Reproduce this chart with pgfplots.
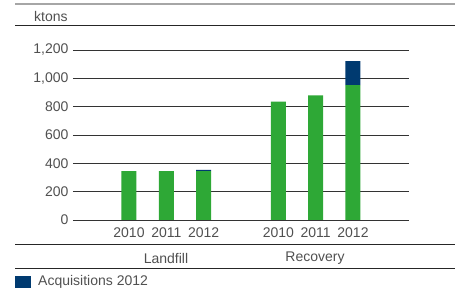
\documentclass[border=0pt]{standalone}
\usepackage{pgfplots}
\pgfplotsset{compat=1.18}
\usepackage{fontspec}
\setmainfont{Liberation Sans}
\definecolor{bargreen}{HTML}{2EA836}
\definecolor{barblue}{HTML}{003A70}
\definecolor{txt}{HTML}{505050}
\definecolor{gridc}{HTML}{333333}
\begin{document}
\begin{tikzpicture}[x=1pt,y=1pt,font=\fontsize{14}{16}\selectfont\color{txt}]
\path (0,0) rectangle (459,290);
% decorative rules
\draw[gray!70,line width=2pt] (15,286) -- (455,286);
\draw[black!85,line width=1pt] (15,264) -- (455,264);
\draw[black!85,line width=1pt] (15,46) -- (455,46);
\draw[black!85,line width=1pt] (15,22) -- (455,22);
\node[anchor=west,inner sep=0] at (34,274) {ktons};
\begin{axis}[
  at={(73pt,70pt)}, anchor=south west,
  scale only axis, width=336pt, height=170pt,
  xmin=-1.5, xmax=7.5, ymin=0, ymax=1200,
  ybar stacked, bar width=15pt,
  axis line style={draw=none},
  major tick length=0pt,
  ymajorgrids, grid style={gridc,line width=0.9pt},
  ytick={0,200,...,1200},
  xtick={0,1,2,4,5,6},
  xticklabels={2010,2011,2012,2010,2011,2012},
  /pgf/number format/.cd, 1000 sep={,}, assume math mode=true,
  /pgfplots/.cd,
  yticklabel style={font=\fontsize{14}{16}\selectfont\color{txt},xshift=-1pt},
  xticklabel style={font=\fontsize{14}{16}\selectfont\color{txt},yshift=-4pt},
  clip=false,
]
\addplot[fill=bargreen,draw=none] coordinates {(0,345) (1,345) (2,345) (4,835) (5,880) (6,952)};
\addplot[fill=barblue,draw=none] coordinates {(0,0) (1,0) (2,8) (4,0) (5,0) (6,170)};
\end{axis}
\node at (166,32) {Landfill};
\node at (315,32) {Recovery};
\fill[barblue] (15,2.5) rectangle (31,14.5);
\node[anchor=west,inner sep=0] at (38,8) {Acquisitions 2012};
\end{tikzpicture}
\end{document}
